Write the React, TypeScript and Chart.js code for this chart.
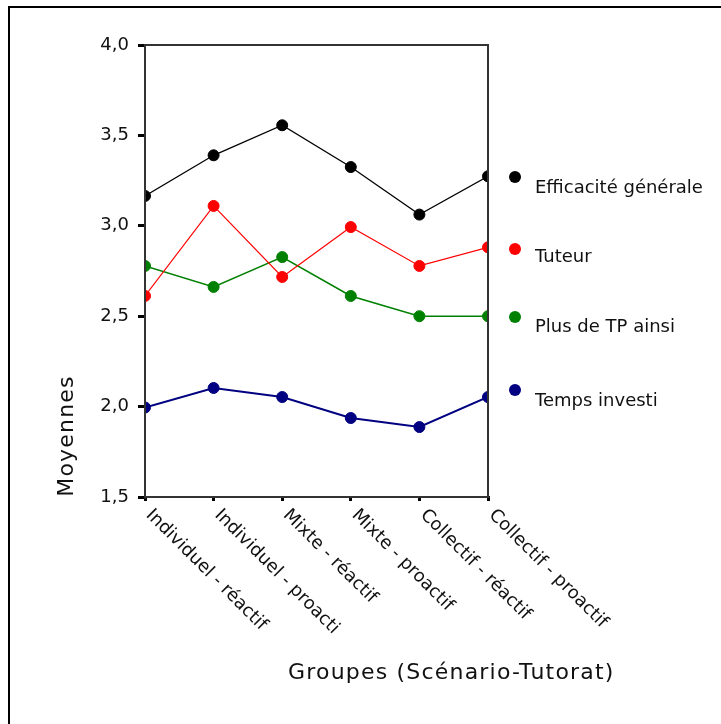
import React, { useEffect, useRef } from "react";
import { Chart, registerables } from "chart.js";

Chart.register(...registerables);

// ---- data ----
const categories = [
  "Individuel - réactif",
  "Individuel - proacti",
  "Mixte - réactif",
  "Mixte - proactif",
  "Collectif - réactif",
  "Collectif - proactif",
];
const efficaciteGenerale = [3.165, 3.39, 3.556, 3.325, 3.062, 3.274];
const tuteur = [2.612, 3.11, 2.717, 2.993, 2.778, 2.881];
const plusDeTP = [2.778, 2.662, 2.827, 2.612, 2.5, 2.5];
const tempsInvesti = [1.995, 2.103, 2.053, 1.937, 1.887, 2.053];
const seriesNames = ["Efficacité générale", "Tuteur", "Plus de TP ainsi", "Temps investi"];
const yMin = 1.5;
const yMax = 4.0;
const yStep = 0.5;
const xTitle = "Groupes (Scénario-Tutorat)";
const yTitle = "Moyennes";

const FONT = "'DejaVu Sans', sans-serif";

const overlayPlugin = {
  id: "overlay",
  beforeDatasetsDraw(chart: any) {
    const { ctx, chartArea: a } = chart;
    ctx.save();
    ctx.beginPath();
    ctx.rect(a.left, a.top, a.right - a.left, a.bottom - a.top);
    ctx.clip();
  },
  afterDatasetsDraw(chart: any) {
    const { ctx, chartArea: a } = chart;
    ctx.restore();
    ctx.save();
    // plot frame top + right, redraw left/bottom axes over clipped points
    ctx.strokeStyle = "#333";
    ctx.lineWidth = 2;
    ctx.beginPath();
    ctx.moveTo(a.left, a.bottom);
    ctx.lineTo(a.left, a.top);
    ctx.lineTo(a.right, a.top);
    ctx.lineTo(a.right, a.bottom);
    ctx.lineTo(a.left, a.bottom);
    ctx.stroke();
    ctx.restore();
  },
  afterDraw(chart: any) {
    const { ctx, chartArea: a, scales } = chart;
    const xs = scales.x;
    ctx.save();
    // outer frame (top & left)
    ctx.strokeStyle = "#000";
    ctx.lineWidth = 2;
    ctx.beginPath();
    ctx.moveTo(9, 724);
    ctx.lineTo(9, 7);
    ctx.lineTo(721, 7);
    ctx.stroke();

    // rotated category labels
    ctx.fillStyle = "#111";
    ctx.font = `18px ${FONT}`;
    ctx.textAlign = "left";
    ctx.textBaseline = "top";
    categories.forEach((lab, i) => {
      const px = xs.getPixelForValue(i);
      ctx.save();
      ctx.translate(px + 10, a.bottom + 9);
      ctx.rotate(Math.PI / 4);
      ctx.fillText(lab, 0, 0);
      ctx.restore();
    });

    // axis titles
    ctx.font = `22px ${FONT}`;
    (ctx as any).letterSpacing = "1.2px";
    ctx.textAlign = "left";
    ctx.textBaseline = "alphabetic";
    ctx.fillText(xTitle, 288, 679);
    ctx.save();
    ctx.translate(73, 436);
    ctx.rotate(-Math.PI / 2);
    ctx.textAlign = "center";
    ctx.fillText(yTitle, 0, 0);
    ctx.restore();
    (ctx as any).letterSpacing = "0px";

    // legend
    const dotY = [177, 249, 317, 390];
    const textY = [193, 262, 332, 406];
    ctx.font = `18px ${FONT}`;
    ctx.textAlign = "left";
    chart.data.datasets.forEach((ds: any, i: number) => {
      ctx.fillStyle = ds.borderColor;
      ctx.beginPath();
      ctx.arc(515, dotY[i], 6, 0, Math.PI * 2);
      ctx.fill();
      ctx.fillStyle = "#111";
      ctx.fillText(ds.label, 535, textY[i]);
    });
    ctx.restore();
  },
};

export default function App() {
  const ref = useRef<HTMLCanvasElement | null>(null);
  useEffect(() => {
    if (!ref.current) return;
    const mk = (label: string, data: number[], color: string, w: number) => ({
      label,
      data,
      borderColor: color,
      backgroundColor: color,
      borderWidth: w,
      pointRadius: 5.5,
      pointBorderWidth: 1,
      pointBackgroundColor: color,
      pointBorderColor: color,
      tension: 0,
      clip: false,
    });
    const chart = new Chart(ref.current, {
      type: "line",
      data: {
        labels: categories,
        datasets: [
          mk(seriesNames[0], efficaciteGenerale, "#000000", 1.3),
          mk(seriesNames[1], tuteur, "#ff0000", 1.2),
          mk(seriesNames[2], plusDeTP, "#008000", 1.6),
          mk(seriesNames[3], tempsInvesti, "#000080", 2),
        ],
      },
      options: {
        responsive: false,
        animation: false,
        layout: { padding: { top: 45, right: 233, left: 0, bottom: 0 } },
        plugins: {
          legend: { display: false },
          tooltip: { enabled: false },
          title: { display: false },
        },
        scales: {
          x: {
            type: "category",
            offset: false,
            afterFit: (s: any) => {
              s.height = 724 - 497;
            },
            grid: {
              display: true,
              drawOnChartArea: false,
              drawTicks: true,
              tickLength: 4,
              lineWidth: 3,
              color: "#000",
            },
            border: { display: true, color: "#222", width: 2 },
            ticks: { display: false },
          },
          y: {
            min: yMin,
            max: yMax,
            afterFit: (s: any) => {
              s.width = 145;
            },
            grid: {
              display: true,
              drawOnChartArea: false,
              drawTicks: true,
              tickLength: 7,
              lineWidth: 3,
              color: "#000",
            },
            border: { display: true, color: "#222", width: 2 },
            ticks: {
              stepSize: yStep,
              padding: 9,
              color: "#111",
              font: { family: FONT, size: 18 },
              callback: (v: any) => Number(v).toFixed(1).replace(".", ","),
            },
          },
        },
      },
      plugins: [overlayPlugin],
    });
    return () => chart.destroy();
  }, []);
  return (
    <div style={{ position: "absolute", left: 0, top: 0, width: 721, height: 724, background: "#fff" }}>
      <canvas ref={ref} width={721} height={724} />
    </div>
  );
}
